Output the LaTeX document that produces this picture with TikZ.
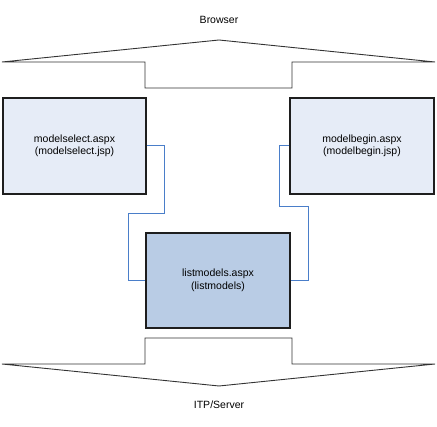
\documentclass[tikz,border=0pt]{standalone}
\usepackage{fontspec}
\setmainfont{Liberation Sans}
\definecolor{lightbox}{HTML}{E6ECF7}
\definecolor{darkbox}{HTML}{B9CCE5}
\definecolor{linkblue}{HTML}{4A7EC9}
\definecolor{edge}{HTML}{1E1E1E}
\begin{document}
\begin{tikzpicture}[x=1pt,y=-1pt,
  page/.style={draw=edge,line width=1.3pt,align=center,inner sep=0pt,
    font=\fontsize{10.5}{12.5}\selectfont},
  pagelight/.style={page,fill=lightbox},
  pagedark/.style={page,fill=darkbox},
  link/.style={draw=linkblue,line width=1pt},
  tier/.style={draw=black!80,line width=0.9pt,line join=miter},
  label/.style={font=\fontsize{10.5}{12.5}\selectfont,inner sep=0pt}]
\useasboundingbox (0,0) rectangle (437,427);
% tiers
\draw[tier] (2,62) -- (145,62) -- (145,88) -- (292,88) -- (292,62) -- (435,62) -- (219,40) -- cycle;
\draw[tier] (2,364) -- (145,364) -- (145,338) -- (292,338) -- (292,364) -- (435,364) -- (219,386) -- cycle;
\node[label] (browser) at (219,20) {Browser};
\node[label] (server) at (219,405) {ITP/Server};
% boxes
\node[pagelight,minimum width=143pt,minimum height=96pt] (ms) at (74.5,146) {modelselect.aspx\\(modelselect.jsp)};
\node[pagelight,minimum width=144pt,minimum height=96pt] (mb) at (362,146) {modelbegin.aspx\\(modelbegin.jsp)};
\node[pagedark,minimum width=144pt,minimum height=95pt] (lm) at (218,280.5) {listmodels.aspx\\(listmodels)};
% connectors
\coordinate (l1) at (164,146);
\coordinate (l2) at (164,214);
\coordinate (l3) at (128,214);
\coordinate (l4) at (128,280.5);
\draw[link] (ms.east) -- (l1) -- (l2) -- (l3) -- (l4) -- (lm.west);
\coordinate (r1) at (279,146);
\coordinate (r2) at (279,207);
\coordinate (r3) at (308,207);
\coordinate (r4) at (308,280.5);
\draw[link] (mb.west) -- (r1) -- (r2) -- (r3) -- (r4) -- (lm.east);
\end{tikzpicture}
\end{document}
